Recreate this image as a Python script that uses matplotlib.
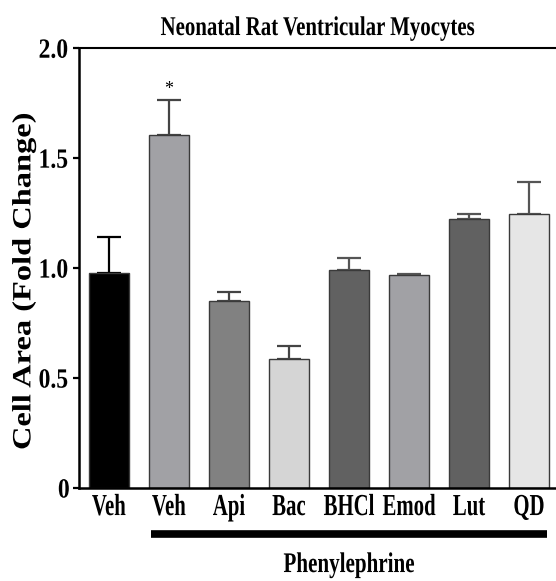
import matplotlib
matplotlib.use("Agg")
import matplotlib.pyplot as plt
import matplotlib.patheffects as pe
from matplotlib.transforms import Affine2D


groups = ['Veh', 'Veh', 'Api', 'Bac', 'BHCl', 'Emod', 'Lut', 'QD']
cell_area = [0.977, 1.605, 0.850, 0.586, 0.991, 0.968, 1.223, 1.245]
cell_sem = [0.164, 0.159, 0.041, 0.059, 0.054, 0.005, 0.022, 0.146]
bar_colors = ['#000000', '#a1a1a5', '#818181', '#d5d5d5',
              '#616161', '#a1a1a5', '#616161', '#e6e6e6']
err_colors = ['#000000', '#444444', '#444444', '#444444',
              '#555555', '#555555', '#555555', '#555555']
yticks = [0, 0.5, 1.0, 1.5, 2.0]
ytick_labels = ['0', '0.5', '1.0', '1.5', '2.0']
treated = (1, 7)   # first and last group under the phenylephrine bar
signif = [1]


class Squeeze(pe.AbstractPathEffect):
    """Scale glyphs along the text direction (condensed type)."""
    def __init__(self, sx):
        super().__init__()
        self.sx = sx

    def draw_path(self, renderer, gc, tpath, affine, rgbFace=None):
        ext = tpath.get_extents()
        cx = (ext.x0 + ext.x1) / 2
        aff = Affine2D().translate(-cx, 0).scale(self.sx, 1).translate(cx, 0) + affine
        renderer.draw_path(gc, tpath, aff, rgbFace)


plt.rcParams['font.family'] = 'Liberation Serif'
plt.rcParams['font.weight'] = 'bold'

fig = plt.figure(figsize=(5.56, 5.81), dpi=100)
ax = fig.add_axes([0.142, 0.160, 0.858, 0.757])

x = list(range(len(groups)))
ax.bar(x, cell_area, width=0.667, color=bar_colors, edgecolor='#3a3a3a',
       linewidth=1.0, zorder=2)
for i in x:
    ax.errorbar(i, cell_area[i], yerr=[[0], [cell_sem[i]]], fmt='none',
                ecolor=err_colors[i], elinewidth=1.6, capsize=8.5,
                capthick=1.6, zorder=1)

for i in signif:
    ax.text(i, cell_area[i] + cell_sem[i] + 0.01, '*', ha='center',
            va='bottom', fontsize=13, fontweight='normal')

ax.set_xlim(-0.5, 7.45)
ax.set_ylim(0, 2.0)
ax.set_xticks(x)
ax.set_xticklabels(groups, fontsize=22)
ax.set_yticks(yticks)
ax.set_yticklabels(ytick_labels, fontsize=20)
ax.tick_params(axis='x', length=0, pad=3.6)
ax.tick_params(axis='y', length=4.5, width=1.6, pad=1.5)

for s in ['left', 'bottom']:
    ax.spines[s].set_linewidth(1.8)
ax.spines['top'].set_linewidth(1.5)
ax.spines['right'].set_visible(False)

for lbl in ax.get_xticklabels():
    lbl.set_path_effects([Squeeze(0.68)])
for lbl in ax.get_yticklabels():
    lbl.set_path_effects([Squeeze(0.85)])

ax.set_title('Neonatal Rat Ventricular Myocytes', fontsize=19.5,
             fontweight='bold', pad=9.5, path_effects=[Squeeze(0.77)])

ylab = ax.set_ylabel('Cell Area (Fold Change)', fontsize=19,
                     fontweight='bold', path_effects=[Squeeze(1.23)])
ylab.set_verticalalignment('center')
ax.yaxis.set_label_coords(-0.115, 0.47)

# phenylephrine bracket under the treated groups
xt = ax.get_xaxis_transform()
ax.plot([treated[0] - 0.3, treated[1] + 0.3], [-0.105, -0.105],
        color='black', lw=5.5, solid_capstyle='butt', transform=xt,
        clip_on=False)
ax.text((treated[0] + treated[1]) / 2, -0.191, 'Phenylephrine', ha='center',
        va='baseline', fontsize=20.5, transform=xt,
        path_effects=[Squeeze(0.74)])

fig.savefig('out.png', dpi=100)
